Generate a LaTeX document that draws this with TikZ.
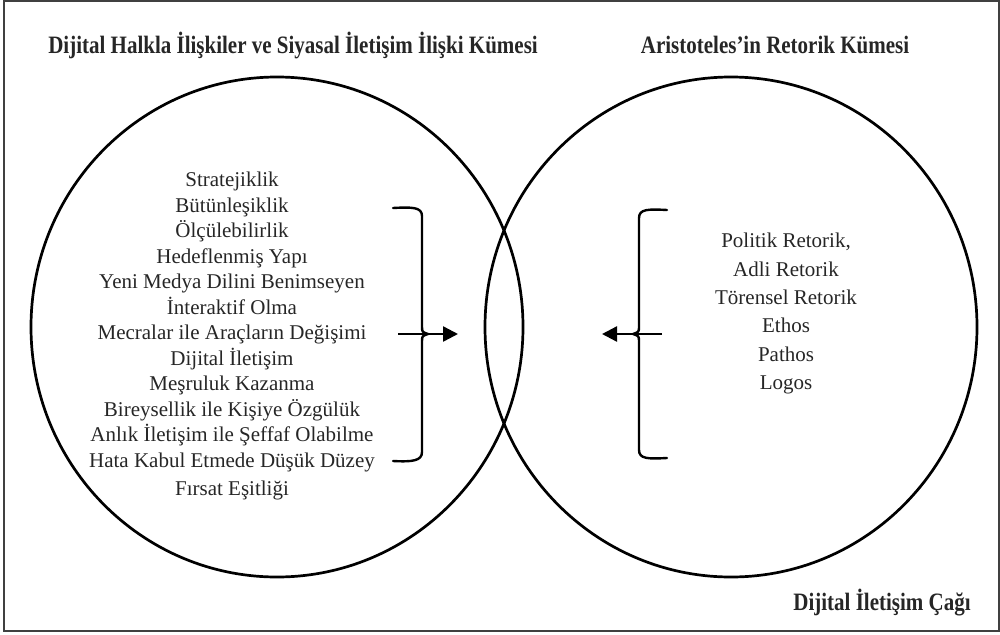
\documentclass[tikz,border=0pt]{standalone}
\usepackage{fontspec}
\setmainfont{Liberation Serif}
\newfontfamily\titlefont[FakeStretch=0.84]{Liberation Serif}
\usetikzlibrary{shapes.geometric,arrows.meta}
\begin{document}
\begin{tikzpicture}[x=1pt,y=-1pt,
  setcircle/.style={ellipse,draw,line width=2.7pt,minimum width=492pt,minimum height=500pt,inner sep=0pt},
  listtext/.style={align=center,inner sep=0pt,text=black!85},
  titletext/.style={inner sep=0pt,anchor=base,font=\titlefont\bfseries\fontsize{25}{28}\selectfont,text=black!85},
  bracestyle/.style={line width=2.4pt,line cap=round,line join=round},
  arrowstyle/.style={line width=2.4pt,-{Triangle[length=15pt,width=15pt]}}]
\useasboundingbox (0,0) rectangle (1000,634);
\draw[black!75,line width=2pt] (4,1) rectangle (999,631);
\node[setcircle] (L) at (277,327) {};
\node[setcircle] (R) at (731,327) {};
\node[titletext] (tl) at (293,54) {Dijital Halkla İlişkiler ve Siyasal İletişim İlişki Kümesi};
\node[titletext] (tr) at (775,54) {Aristoteles’in Retorik Kümesi};
\node[titletext] (tb) at (882,610) {Dijital İletişim Çağı};
\node[listtext,anchor=north,font=\fontsize{21}{25.5}\selectfont] (ll) at (232,172) {Stratejiklik\\Bütünleşiklik\\Ölçülebilirlik\\Hedeflenmiş Yapı\\Yeni Medya Dilini Benimseyen\\İnteraktif Olma\\Mecralar ile Araçların Değişimi\\Dijital İletişim\\Meşruluk Kazanma\\Bireysellik ile Kişiye Özgülük\\Anlık İletişim ile Şeffaf Olabilme\\Hata Kabul Etmede Düşük Düzey\\[3pt]Fırsat Eşitliği};
\node[listtext,anchor=north,font=\fontsize{21}{28.4}\selectfont] (rl) at (786,233) {Politik Retorik,\\Adli Retorik\\Törensel Retorik\\Ethos\\Pathos\\Logos};
% left brace and arrow
\draw[bracestyle] (393,208) .. controls (412,207) and (422,207) .. (422,216) -- (422,326) .. controls (422,332) .. (428,334) .. controls (422,336) .. (422,342) -- (422,452) .. controls (422,461) and (412,462) .. (393,461);
\coordinate (la) at (398,334);
\coordinate (lb) at (458,334);
\draw[arrowstyle] (la) -- (lb);
% right brace and arrow
\draw[bracestyle] (667,210) .. controls (648,209) and (639,209) .. (639,218) -- (639,326) .. controls (639,332) .. (633,334) .. controls (639,336) .. (639,342) -- (639,450) .. controls (639,459) and (648,459) .. (667,458);
\coordinate (ra) at (662,334);
\coordinate (rb) at (602,334);
\draw[arrowstyle] (ra) -- (rb);
\end{tikzpicture}
\end{document}
